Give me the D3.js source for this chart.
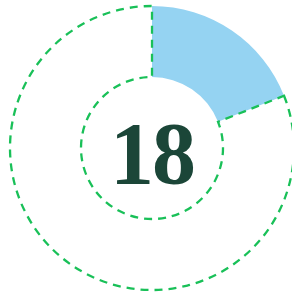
<!DOCTYPE html>
<html>
<head>
<meta charset="utf-8">
<script src="https://cdn.jsdelivr.net/npm/d3@7"></script>
<style>
  html, body { margin: 0; padding: 0; background: #fff; overflow: hidden; }
</style>
</head>
<body>
<div id="chart"></div>
<script>
// Share of the ring
const categories = ["filled", "rest"];
const values = [19, 81];
const label = "18";

const width = 292, height = 293;
const cx = 152, cy = 148;
const outerR = 142, innerR = 71;

const svg = d3.select("#chart")
    .append("svg")
    .attr("width", width)
    .attr("height", height);

const g = svg.append("g")
    .attr("transform", "translate(" + cx + "," + cy + ")");

const pie = d3.pie().sort(null).value(d => d.value);
const arc = d3.arc().innerRadius(innerR).outerRadius(outerR);

const slices = pie(categories.map((c, i) => ({ name: c, value: values[i] })));

g.selectAll("path")
    .data(slices)
    .enter().append("path")
    .attr("d", arc)
    .attr("fill", d => d.data.name === "filled" ? "#95d3f2" : "none")
    .attr("stroke", d => d.data.name === "filled" ? "none" : "#19c058")
    .attr("stroke-width", 2.3)
    .attr("stroke-dasharray", "8,6");

// Number in the middle
g.append("text")
    .attr("x", 0)
    .attr("y", 35)
    .attr("text-anchor", "middle")
    .style("font-family", "'Liberation Serif', serif")
    .style("font-weight", "bold")
    .style("font-size", "88px")
    .style("letter-spacing", "-2px")
    .attr("fill", "#1b4638")
    .text(label);
</script>
</body>
</html>
